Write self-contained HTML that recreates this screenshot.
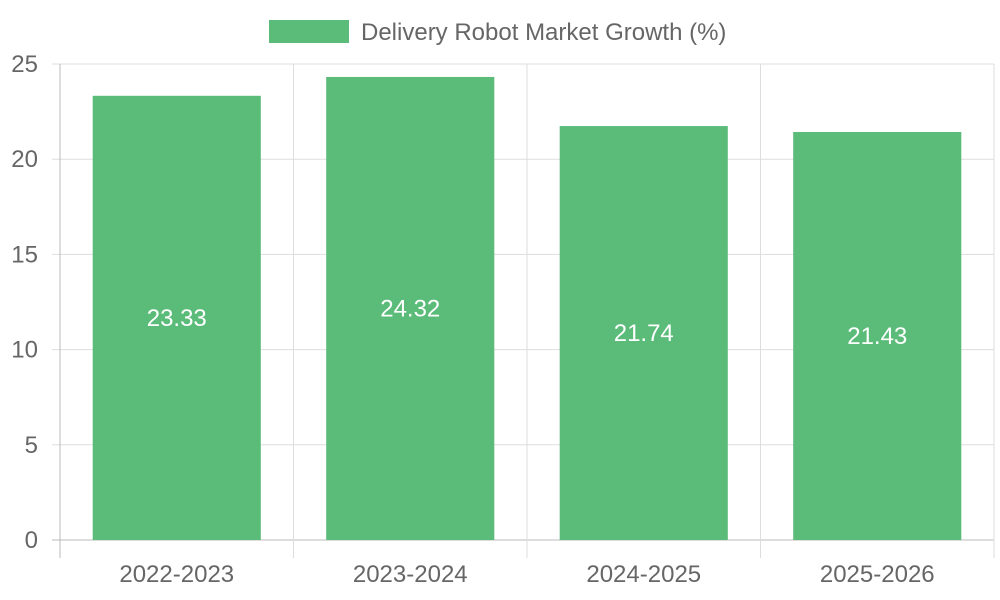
<!DOCTYPE html>
<html><head><meta charset="utf-8"><style>
body{margin:0;background:#fff;}
svg{display:block;font-family:"Liberation Sans",sans-serif;}
</style></head><body>
<svg id="chart" width="1000" height="600">
<g>
<rect x="269" y="20" width="80" height="23" fill="#5bbc7a"/>
<text x="361" y="40" font-size="24" fill="#666">Delivery Robot Market Growth (%)</text>
</g>
<g id="grid"></g><g id="bars"></g><g id="labels"></g>
</svg>
<script>
const categories=["2022-2023","2023-2024","2024-2025","2025-2026"];
const values=[23.33,24.32,21.74,21.43];
const yTicks=[0,5,10,15,20,25];
const L=60,R=994,T=64,B=540,yMax=25;
const ns="http://www.w3.org/2000/svg";
const y=v=>B-(v/yMax)*(B-T);
const bw=(R-L)/categories.length;
const x=i=>L+bw*i;
function mk(p,tag,attrs){const e=document.createElementNS(ns,tag);for(const k in attrs)e.setAttribute(k,attrs[k]);document.getElementById(p).appendChild(e);return e;}
yTicks.forEach(t=>{
 const l=mk('grid','line',{x1:L-8,x2:R,y1:y(t),y2:y(t),stroke:t===0?'#bbb':'#ddd','stroke-width':1});
 
 
 const tx=mk('grid','text',{x:38,y:y(t)+8,'text-anchor':'end','font-size':24,fill:'#666'});
 tx.textContent=t;
 
 
});
for(let i=0;i<=categories.length;i++){
 const l=mk('grid','line',{x1:x(i),x2:x(i),y1:T,y2:B+18,stroke:(i===0)?'#bbb':'#ddd','stroke-width':1});
 
 
}
categories.forEach((c,i)=>{
 const w=bw*0.72,cx=x(i)+bw/2;
 const r=mk('bars','rect',{x:cx-w/2,y:y(values[i]),width:w,height:B-y(values[i]),fill:'#5bbc7a'});
 
 
 const v=mk('labels','text',{x:cx,y:(y(values[i])+B)/2+8,'text-anchor':'middle','font-size':24,fill:'#fff'});
 v.textContent=values[i].toFixed(2);
 
 
 const t=mk('labels','text',{x:cx,y:582,'text-anchor':'middle','font-size':24,fill:'#666'});
 t.textContent=c;
 
 
});
</script>
</body></html>
